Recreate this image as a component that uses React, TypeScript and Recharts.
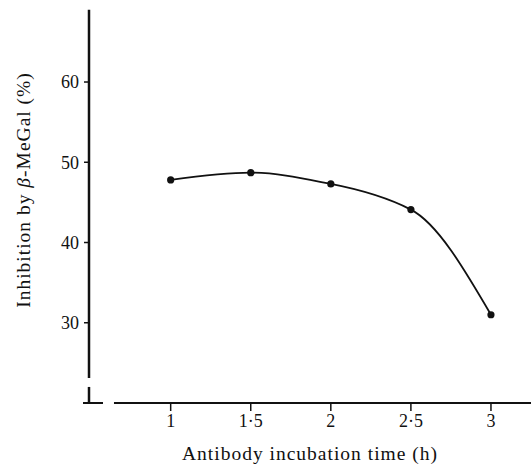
import React from 'react';
import { ComposedChart, Line, XAxis, YAxis, ReferenceLine } from 'recharts';

// values
const times = [1, 1.5, 2, 2.5, 3]; // antibody incubation time (h)
const inhibition = [47.8, 48.7, 47.3, 44.1, 31.0]; // inhibition by beta-MeGal (%)
const xTicks = [1, 1.5, 2, 2.5, 3];
const yTicks = [30, 40, 50, 60];

const data = times.map((t, i) => ({ t, v: inhibition[i] }));

const FONT = '"Liberation Serif", "DejaVu Serif", serif';
const INK = '#111';

// tick labels use a middle dot for the decimal point, like the print
const fmtX = (v: number) => String(v).replace('.', '\u00b7');

// smooth hermite curve with harmonic-mean tangents (Fritsch-Butland),
// keeps the hand-drawn look without the wobble of a natural spline
const smoothCurve = (context: any) => {
    let xs: number[] = [];
    let ys: number[] = [];
    return {
        areaStart() {},
        areaEnd() {},
        lineStart() {
            xs = [];
            ys = [];
        },
        point(x: number, y: number) {
            xs.push(+x);
            ys.push(+y);
        },
        lineEnd() {
            const n = xs.length;
            if (!n) return;
            context.moveTo(xs[0], ys[0]);
            if (n === 1) return;
            if (n === 2) {
                context.lineTo(xs[1], ys[1]);
                return;
            }
            const s: number[] = [];
            for (let i = 0; i < n - 1; i++) s.push((ys[i + 1] - ys[i]) / (xs[i + 1] - xs[i]));
            const m: number[] = new Array(n).fill(0);
            for (let i = 1; i < n - 1; i++) {
                m[i] = s[i - 1] * s[i] > 0 ? (2 * s[i - 1] * s[i]) / (s[i - 1] + s[i]) : 0;
            }
            m[0] = (3 * s[0] - m[1]) / 2;
            m[n - 1] = (3 * s[n - 2] - m[n - 2]) / 2;
            for (let i = 0; i < n - 1; i++) {
                const h = xs[i + 1] - xs[i];
                context.bezierCurveTo(
                    xs[i] + h / 3, ys[i] + (m[i] * h) / 3,
                    xs[i + 1] - h / 3, ys[i + 1] - (m[i + 1] * h) / 3,
                    xs[i + 1], ys[i + 1]
                );
            }
        },
    };
};

const YLabel = () => (
    <text
        x={30}
        y={190}
        transform="rotate(-90 30 190)"
        textAnchor="middle"
        fontFamily={FONT}
        fontSize={19.5}
        letterSpacing={1}
        fill={INK}
    >
        Inhibition by <tspan fontStyle="italic">β</tspan>-MeGal (%)
    </text>
);

const App: React.FC = () => {
    return (
        <div style={{ position: 'absolute', left: 0, top: 0, background: '#fff' }}>
            <ComposedChart
                width={531}
                height={469}
                data={data}
                margin={{ top: 13, right: 0, bottom: 0, left: 0 }}
            >
                <XAxis
                    type="number"
                    dataKey="t"
                    domain={[0.49, 3.25]}
                    ticks={xTicks}
                    tickFormatter={fmtX}
                    axisLine={false}
                    tickLine={{ stroke: INK, strokeWidth: 1.5 }}
                    tickSize={8}
                    tickMargin={3}
                    height={66}
                    tick={{ fill: INK, fontFamily: FONT, fontSize: 18 }}
                    label={{
                        value: 'Antibody incubation time (h)',
                        position: 'insideBottom',
                        offset: 9,
                        fill: INK,
                        fontFamily: FONT,
                        fontSize: 19.5,
                        letterSpacing: 1,
                    }}
                />
                <YAxis
                    type="number"
                    domain={[20, 68.6]}
                    ticks={yTicks}
                    axisLine={false}
                    tickLine={{ stroke: INK, strokeWidth: 1.5 }}
                    tickSize={5}
                    tickMargin={5}
                    width={89}
                    tick={{ fill: INK, fontFamily: FONT, fontSize: 18 }}
                    label={{ content: () => <YLabel /> }}
                />
                {/* broken y axis */}
                <ReferenceLine
                    segment={[{ x: 0.49, y: 69 }, { x: 0.49, y: 23.1 }]}
                    stroke={INK}
                    strokeWidth={2.5}
                    ifOverflow="visible"
                />
                <ReferenceLine
                    segment={[{ x: 0.49, y: 22.0 }, { x: 0.49, y: 20 }]}
                    stroke={INK}
                    strokeWidth={2.5}
                    ifOverflow="visible"
                />
                <ReferenceLine
                    segment={[{ x: 0.4525, y: 20 }, { x: 0.5775, y: 20 }]}
                    stroke={INK}
                    strokeWidth={2}
                    ifOverflow="visible"
                />
                {/* x axis, starting after the break */}
                <ReferenceLine
                    segment={[{ x: 0.646, y: 20 }, { x: 3.25, y: 20 }]}
                    stroke={INK}
                    strokeWidth={2.2}
                    ifOverflow="visible"
                />
                <Line
                    type={smoothCurve as any}
                    dataKey="v"
                    stroke={INK}
                    strokeWidth={1.8}
                    dot={{ r: 3.6, fill: INK, stroke: INK, strokeWidth: 0 }}
                    activeDot={false}
                    isAnimationActive={false}
                />
            </ComposedChart>
        </div>
    );
};

export default App;
